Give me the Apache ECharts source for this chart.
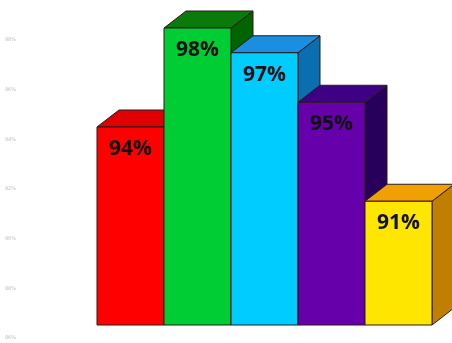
<!DOCTYPE html>
<html><head><meta charset="utf-8">
<script src="https://cdn.jsdelivr.net/npm/echarts@6/dist/echarts.min.js"></script>
<style>html,body{margin:0;padding:0;background:#fff}#c{width:452px;height:343px}</style>
</head><body><div id="c"></div>
<script>
const categories = ['Bar 1', 'Bar 2', 'Bar 3', 'Bar 4', 'Bar 5'];
const values = [94, 98, 97, 95, 91];
const yMin = 86, yMax = 98, yStep = 2;
const frontColors = ['#ff0000', '#00cc33', '#00ccff', '#6600aa', '#ffe600'];
const topColors = ['#e00000', '#0a7a0a', '#1a8ee0', '#3e0085', '#f0a000'];
const sideColors = ['#a00000', '#006400', '#0a6fb0', '#26005a', '#c07f00'];

const chart = echarts.init(document.getElementById('c'), null, {renderer: 'canvas'});
const DX = 22, DY = 17;
chart.setOption({
  backgroundColor: '#ffffff',
  animation: false,
  grid: [
    {left: 97, right: 20, top: 28, bottom: 18},
    {left: 18, width: 10, top: 40, bottom: 5}
  ],
  xAxis: [
    {type: 'category', data: categories, gridIndex: 0, show: false},
    {type: 'value', gridIndex: 1, show: false, min: 0, max: 1}
  ],
  yAxis: [
    {type: 'value', gridIndex: 0, min: yMin, max: yMax, interval: yStep, show: false},
    {type: 'value', gridIndex: 1, min: yMin, max: yMax, interval: yStep,
     axisLine: {show: false}, axisTick: {show: false}, splitLine: {show: false},
     axisLabel: {formatter: '{value}%', fontSize: 5, color: '#bdbdbd', margin: 2, fontFamily: 'DejaVu Sans'}}
  ],
  series: [{
    type: 'custom',
    xAxisIndex: 0, yAxisIndex: 0,
    data: values.map((v, i) => [i, v]),
    renderItem: function (params, api) {
      const i = api.value(0), v = api.value(1);
      const t = api.coord([i, v]);
      const b = api.coord([i, yMin]);
      const bw = api.size([1, 0])[0];
      const x0 = t[0] - bw / 2, x1 = t[0] + bw / 2, ty = t[1], by = b[1];
      const stroke = {stroke: '#2a1a1a', lineWidth: 1};
      return {
        type: 'group',
        children: [
          {type: 'polygon', shape: {points: [[x1, ty], [x1 + DX, ty - DY], [x1 + DX, by - DY], [x1, by]]},
           style: Object.assign({fill: sideColors[i]}, stroke)},
          {type: 'polygon', shape: {points: [[x0, ty], [x0 + DX, ty - DY], [x1 + DX, ty - DY], [x1, ty]]},
           style: Object.assign({fill: topColors[i]}, stroke)},
          {type: 'rect', shape: {x: x0, y: ty, width: bw, height: by - ty},
           style: Object.assign({fill: frontColors[i]}, stroke)},
          {type: 'text', x: t[0], y: ty + 22,
           style: {text: v + '%', fill: '#111', font: 'bold 21px "Open Sans"', align: 'center', verticalAlign: 'middle'}}
        ]
      };
    }
  }]
});
</script></body></html>
